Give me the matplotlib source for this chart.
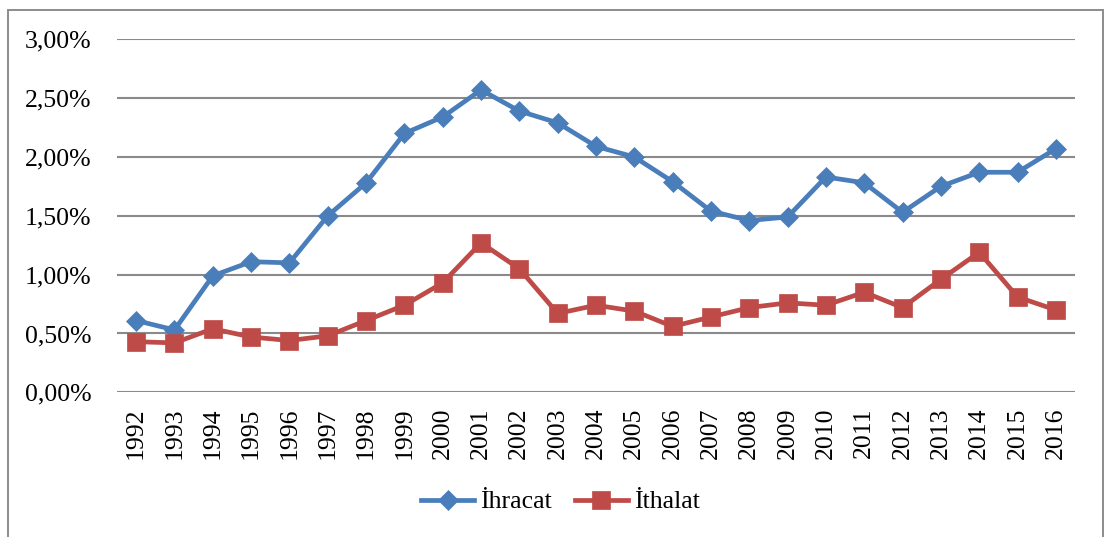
import matplotlib
matplotlib.use("Agg")
import matplotlib.pyplot as plt
from matplotlib.patches import Rectangle
from matplotlib.ticker import FuncFormatter

years = [str(y) for y in range(1992, 2017)]
ihracat = [0.61, 0.53, 0.99, 1.11, 1.10, 1.50, 1.78, 2.20, 2.34, 2.57, 2.39,
           2.29, 2.09, 2.00, 1.79, 1.54, 1.46, 1.49, 1.83, 1.78, 1.53, 1.75,
           1.87, 1.87, 2.07]
ithalat = [0.43, 0.42, 0.54, 0.47, 0.44, 0.48, 0.61, 0.74, 0.93, 1.27, 1.05,
           0.67, 0.74, 0.69, 0.56, 0.64, 0.72, 0.76, 0.74, 0.85, 0.72, 0.96,
           1.19, 0.81, 0.70]
series_names = ["İhracat", "İthalat"]
yticks = [0.0, 0.5, 1.0, 1.5, 2.0, 2.5, 3.0]

plt.rcParams['font.family'] = ['Liberation Serif', 'DejaVu Serif']

W, H = 1105, 537
fig = plt.figure(figsize=(W / 100, H / 100), dpi=100)
fig.patches.append(Rectangle((8 / W, -0.05), (1103 - 8) / W, 1.05 - 9.5 / H,
                             transform=fig.transFigure, fill=False,
                             edgecolor='#8c8c8c', linewidth=1.4))

ax = fig.add_axes([117 / W, 1 - 392.3 / H, (1075 - 117) / W, (392.3 - 39.3) / H])
x = list(range(len(years)))
ax.plot(x, ihracat, color='#4A7EBB', linewidth=3.4, marker='D', markersize=10,
        markeredgewidth=0.5, label=series_names[0], zorder=3)
ax.plot(x, ithalat, color='#BE4B48', linewidth=3.4, marker='s', markersize=13.5,
        markeredgewidth=0.5, label=series_names[1], zorder=3)

ax.set_xlim(-0.5, len(years) - 0.5)
ax.set_ylim(0, 3.0)
ax.set_yticks(yticks)
ax.yaxis.set_major_formatter(FuncFormatter(lambda v, p: f"{v:.2f}%".replace('.', ',')))
ax.set_xticks(x)
ax.set_xticklabels(years, rotation=90)
ax.tick_params(axis='both', length=0, labelsize=18.5, colors='black')
ax.tick_params(axis='y', pad=18.5)
ax.tick_params(axis='x', pad=11)
ax.grid(axis='y', color='#8a8a8a', linewidth=1.5)
ax.set_axisbelow(True)
for s in ax.spines.values():
    s.set_visible(False)

fig.legend(loc='center', bbox_to_anchor=(560 / W, 1 - 502 / H), ncol=2,
           frameon=False, fontsize=18.5, handlelength=2.1, handletextpad=0.2,
           columnspacing=0.9)

fig.savefig("out.png", dpi=100)
